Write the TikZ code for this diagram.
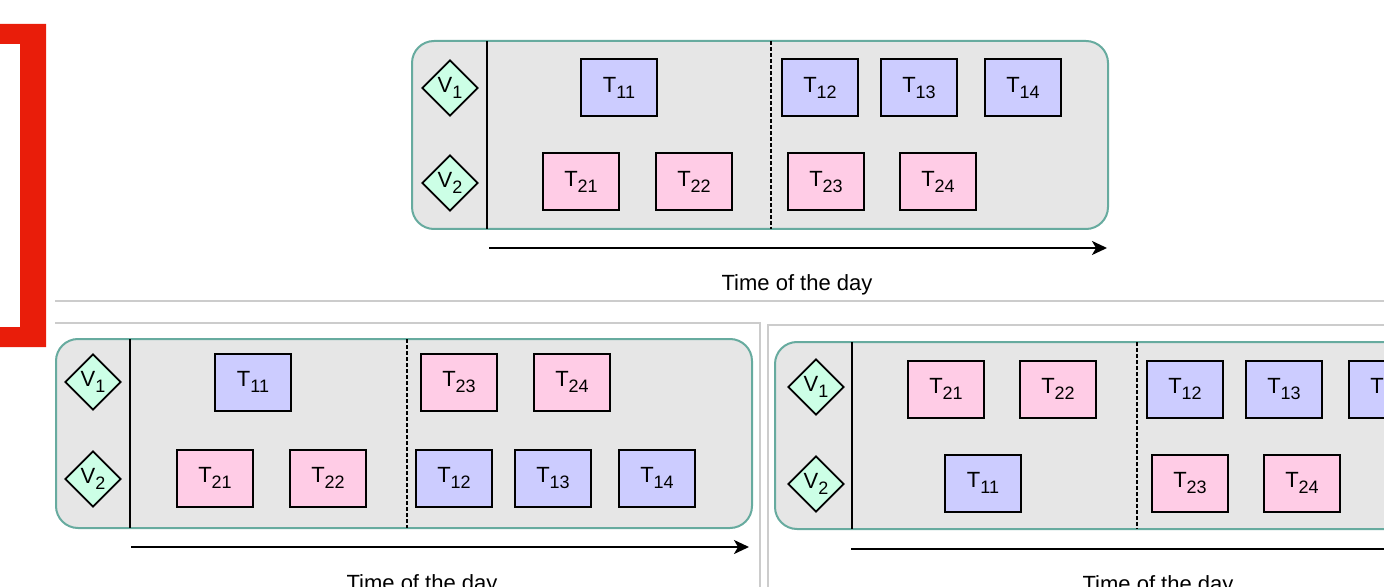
\documentclass[tikz,border=0pt]{standalone}
\usepackage{fontspec}
\setmainfont{Liberation Sans}
\usepackage{xcolor}
\usepackage{tikz}
\usetikzlibrary{shapes.geometric, arrows.meta}

\definecolor{slotfill}{HTML}{E6E6E6}
\definecolor{slotline}{HTML}{67AB9F}
\definecolor{vehfill}{HTML}{CCFFE6}
\definecolor{firstfill}{HTML}{CCCCFF}
\definecolor{secondfill}{HTML}{FFCCE6}
\definecolor{markred}{RGB}{233,29,10}

% task and vehicle labels with a lowered index
\newcommand{\tsk}[1]{T\raisebox{-3pt}{\fontsize{9}{10}\selectfont #1}}
\newcommand{\veh}[1]{V\raisebox{-3pt}{\fontsize{9}{10}\selectfont #1}}

\tikzset{
  panel/.style={draw=slotline, fill=slotfill, line width=1pt, rounded corners=11pt},
  vehicle/.style={diamond, draw, fill=vehfill, line width=0.9pt, minimum size=28pt, inner sep=0pt},
  task/.style={rectangle, draw, line width=1pt, minimum width=38pt, minimum height=28.5pt, inner sep=0pt},
  jobone/.style={task, fill=firstfill},
  jobtwo/.style={task, fill=secondfill},
  lane/.style={line width=1pt},
  split/.style={line width=0.75pt, dash pattern=on 2pt off 1pt},
  timeaxis/.style={-{Stealth[length=7.5pt, width=7pt, inset=2pt]}, line width=1pt},
  shot/.style={draw=gray!40, line width=0.75pt},
}

\begin{document}
\begin{tikzpicture}[x=0.5pt, y=-0.5pt, font=\fontsize{11}{13}\selectfont]
  \useasboundingbox (0,0) rectangle (1384,587);
  \clip (0,0) rectangle (1384,587);

  % red marker and window edges
  \fill[markred, even odd rule] (-10,24) rectangle (46,347) (-10,44) rectangle (20,327);
  \draw[shot] (55,301) -- (1390,301);
  \draw[shot] (55,323) -- (760,323) -- (760,595);
  \draw[shot] (768,595) -- (768,325) -- (1390,325);

  % top schedule
  \draw[panel] (412,41) rectangle (1108,229);
  \draw[lane] (487,41) -- (487,229);
  \draw[split] (771,41) -- (771,229);
  \node[vehicle] (av1) at (450,88) {\veh{1}};
  \node[vehicle] (av2) at (450,183) {\veh{2}};
  \node[jobone] (a11) at (619,88) {\tsk{11}};
  \node[jobone] (a12) at (820,88) {\tsk{12}};
  \node[jobone] (a13) at (919,88) {\tsk{13}};
  \node[jobone] (a14) at (1023,88) {\tsk{14}};
  \node[jobtwo] (a21) at (581,182) {\tsk{21}};
  \node[jobtwo] (a22) at (694,182) {\tsk{22}};
  \node[jobtwo] (a23) at (826,182) {\tsk{23}};
  \node[jobtwo] (a24) at (938,182) {\tsk{24}};
  \coordinate (astart) at (489,248);
  \coordinate (aend) at (1107,248);
  \draw[timeaxis] (astart) -- (aend);
  \node (atime) at (797,285) {Time of the day};

  % lower left schedule
  \draw[panel] (56,339) rectangle (752,528);
  \draw[lane] (130,339) -- (130,528);
  \draw[split] (407,339) -- (407,528);
  \node[vehicle] (bv1) at (93,382) {\veh{1}};
  \node[vehicle] (bv2) at (93,479) {\veh{2}};
  \node[jobone] (b11) at (253,382) {\tsk{11}};
  \node[jobtwo] (b23) at (459,382) {\tsk{23}};
  \node[jobtwo] (b24) at (572,382) {\tsk{24}};
  \node[jobtwo] (b21) at (215,478) {\tsk{21}};
  \node[jobtwo] (b22) at (328,478) {\tsk{22}};
  \node[jobone] (b12) at (454,478) {\tsk{12}};
  \node[jobone] (b13) at (553,478) {\tsk{13}};
  \node[jobone] (b14) at (657,478) {\tsk{14}};
  \coordinate (bstart) at (131,547);
  \coordinate (bend) at (749,547);
  \draw[timeaxis] (bstart) -- (bend);
  \node (btime) at (422,585) {Time of the day};

  % lower right schedule
  \draw[panel] (775,342) rectangle (1475,529);
  \draw[lane] (852,342) -- (852,529);
  \draw[split] (1137,342) -- (1137,529);
  \node[vehicle] (cv1) at (816,387) {\veh{1}};
  \node[vehicle] (cv2) at (816,484) {\veh{2}};
  \node[jobtwo] (c21) at (946,389) {\tsk{21}};
  \node[jobtwo] (c22) at (1058,389) {\tsk{22}};
  \node[jobone] (c12) at (1185,389) {\tsk{12}};
  \node[jobone] (c13) at (1284,389) {\tsk{13}};
  \node[jobone] (c14) at (1387,389) {\tsk{14}};
  \node[jobone] (c11) at (983,483) {\tsk{11}};
  \node[jobtwo] (c23) at (1190,483) {\tsk{23}};
  \node[jobtwo] (c24) at (1302,483) {\tsk{24}};
  \coordinate (cstart) at (851,549);
  \coordinate (cend) at (1470,549);
  \draw[timeaxis] (cstart) -- (cend);
  \node (ctime) at (1158,586) {Time of the day};
\end{tikzpicture}
\end{document}
